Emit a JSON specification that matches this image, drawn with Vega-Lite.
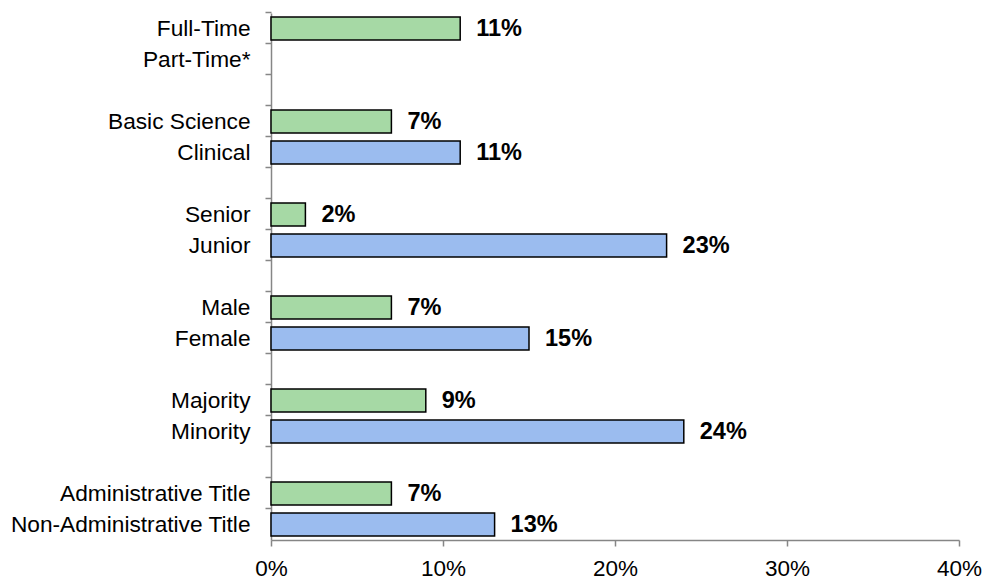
{
  "$schema": "https://vega.github.io/schema/vega-lite/v6.json",
  "width": 688,
  "height": 527,
  "autosize": {"type": "none"},
  "padding": {"left": 271, "top": 13, "right": 27, "bottom": 40},
  "background": "white",
  "config": {
    "view": {"stroke": null},
    "font": "Liberation Sans"
  },
  "data": {
    "values": [
      {"label": "Full-Time", "pct": 0.11, "series": "Reference"},
      {"label": "Basic Science", "pct": 0.07, "series": "Reference"},
      {"label": "Clinical", "pct": 0.11, "series": "Comparison"},
      {"label": "Senior", "pct": 0.02, "series": "Reference"},
      {"label": "Junior", "pct": 0.23, "series": "Comparison"},
      {"label": "Male", "pct": 0.07, "series": "Reference"},
      {"label": "Female", "pct": 0.15, "series": "Comparison"},
      {"label": "Majority", "pct": 0.09, "series": "Reference"},
      {"label": "Minority", "pct": 0.24, "series": "Comparison"},
      {"label": "Administrative Title", "pct": 0.07, "series": "Reference"},
      {"label": "Non-Administrative Title", "pct": 0.13, "series": "Comparison"}
    ]
  },
  "encoding": {
    "y": {
      "field": "label",
      "type": "nominal",
      "sort": null,
      "scale": {
        "domain": ["Full-Time", "Part-Time*", "gap1", "Basic Science", "Clinical", "gap2", "Senior", "Junior", "gap3", "Male", "Female", "gap4", "Majority", "Minority", "gap5", "Administrative Title", "Non-Administrative Title"],
        "paddingInner": 0.26,
        "paddingOuter": 0.13
      },
      "axis": {
        "title": null,
        "orient": "left",
        "bandPosition": -0.1757,
        "labelExpr": "indexof(datum.value, 'gap') === 0 ? '' : datum.value",
        "labelFontSize": 22.7,
        "labelLimit": 400,
        "labelColor": "#000000",
        "labelPadding": 15,
        "tickSize": 6,
        "tickColor": "#868686",
        "tickWidth": 1.5,
        "domainColor": "#868686",
        "domainWidth": 1.5,
        "grid": false
      }
    },
    "x": {
      "field": "pct",
      "type": "quantitative",
      "scale": {"domain": [0, 0.4], "nice": false},
      "axis": {
        "title": null,
        "orient": "bottom",
        "values": [0, 0.1, 0.2, 0.3, 0.4],
        "format": ".0%",
        "labelFontSize": 22.5,
        "labelColor": "#000000",
        "labelPadding": 11,
        "labelFlush": false,
        "tickSize": 6,
        "tickColor": "#868686",
        "tickWidth": 1.5,
        "domainColor": "#868686",
        "domainWidth": 1.5,
        "grid": false
      }
    }
  },
  "layer": [
    {
      "mark": {"type": "bar", "stroke": "#000000", "strokeWidth": 1.5},
      "encoding": {
        "color": {
          "field": "series",
          "type": "nominal",
          "scale": {"domain": ["Reference", "Comparison"], "range": ["#a6d9a5", "#9bbcef"]},
          "legend": null
        }
      }
    },
    {
      "mark": {"type": "text", "align": "left", "baseline": "middle", "dx": 16, "fontSize": 23.5, "fontWeight": "bold", "color": "#000000"},
      "encoding": {
        "text": {"field": "pct", "type": "quantitative", "format": ".0%"}
      }
    }
  ]
}
